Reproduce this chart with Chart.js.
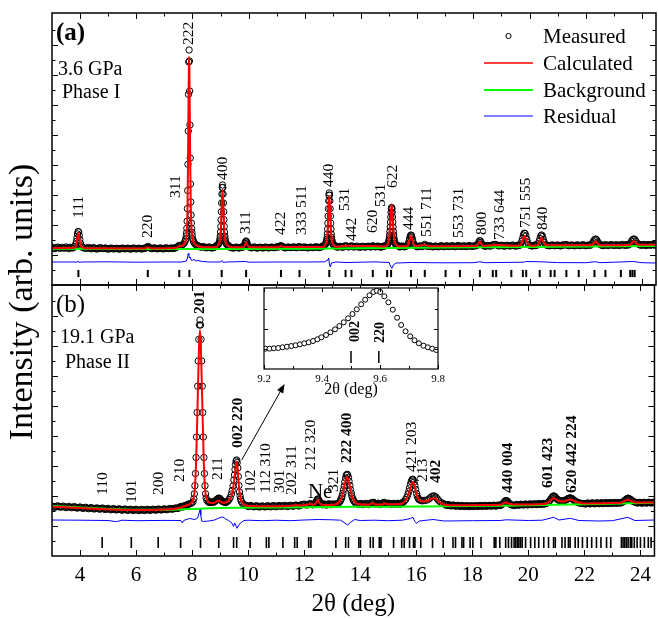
<!DOCTYPE html>
<html>
<head>
<meta charset="utf-8">
<title>Rietveld refinement, Phase I / Phase II</title>
<script src="https://cdn.jsdelivr.net/npm/chart.js@4.4.1/dist/chart.umd.min.js"></script>
<style>
  html, body { margin: 0; padding: 0; background: #fff; }
  #wrap { position: relative; width: 658px; height: 620px; }
  #wrap canvas { position: absolute; left: 0; top: 0; }
</style>
</head>
<body>
<div id="wrap">
  <canvas id="chartA" width="658" height="620"></canvas>
  <canvas id="chartB" width="658" height="620"></canvas>
  <canvas id="chartC" width="658" height="620"></canvas>
</div>
<script>
/* ---- data: panel (a), 3.6 GPa, Phase I ---- */
const measuredA = [
  [3.0,37.6],[3.1,36.3],[3.2,37.9],[3.3,36.7],[3.4,37.2],[3.5,38.0],[3.6,36.4],[3.7,37.4],
  [3.80,38.5],[3.84,40.5],[3.87,43.5],[3.89,47],[3.91,51],[3.93,53.5],[3.95,53],[3.97,49.5],[3.99,45.5],[4.01,42],[4.04,39],[4.08,37.8],
  [4.2,36.6],[4.3,37.5],[4.4,36.2],[4.5,37.1],[4.6,36.0],[4.7,37.3],[4.8,36.4],[4.9,37.0],[5.0,35.9],[5.1,36.9],[5.2,36.1],[5.3,36.7],
  [5.4,35.8],[5.5,36.9],[5.6,36.2],[5.7,36.8],[5.8,35.9],[5.9,37.0],[6.0,36.1],[6.1,36.8],[6.2,36.0],[6.3,36.9],
  [6.38,37.6],[6.42,38.6],[6.46,37.5],
  [6.55,36.3],[6.65,37.1],[6.75,36.2],[6.85,37.0],[6.95,36.1],[7.05,37.2],[7.15,36.4],[7.25,37.1],[7.35,36.8],[7.42,37.6],[7.48,38.4],[7.52,39.6],[7.56,39.3],
  [7.62,39.8],[7.67,40.8],[7.71,42.1],[7.74,43.9],[7.76,45.9],[7.78,49.2],[7.79,52.2],[7.80,56.7],[7.81,63.8],[7.82,76.4],[7.83,94.5],[7.84,120.7],
  [7.85,154],[7.86,190.7],[7.87,223],[7.88,235],[7.89,224],[7.90,194],[7.91,160],[7.92,127],[7.93,101],[7.94,83],[7.95,70],[7.96,62],
  [7.97,56.5],[7.98,52.5],[7.99,49.5],[8.01,46],[8.03,44],[8.06,42.2],[8.10,40.8],[8.15,39.8],
  [8.22,39.0],[8.3,37.8],[8.4,38.3],[8.5,37.2],[8.6,38.0],[8.7,37.0],[8.8,37.9],
  [8.86,39.4],[8.90,40.1],[8.93,41.1],[8.95,42.1],[8.97,44.2],[8.98,46.1],[8.99,48.9],[9.00,52.9],[9.01,58.5],[9.02,65.3],[9.03,73.3],[9.04,82],
  [9.05,91],[9.06,97.5],[9.07,100],[9.08,97.5],[9.09,91],[9.10,82],[9.11,73.3],[9.12,65.3],[9.13,58.5],[9.14,52.9],[9.15,48.9],[9.16,46.1],
  [9.17,44.2],[9.19,42.1],[9.21,41.1],[9.24,40.1],[9.28,39.4],
  [9.35,37.6],[9.45,36.9],[9.55,37.9],[9.65,37.0],[9.72,37.8],
  [9.80,38],[9.84,39.3],[9.87,41.5],[9.89,43.2],[9.91,44],[9.93,43],[9.95,41],[9.98,39.2],[10.02,38],
  [10.1,37.2],[10.2,38.1],[10.3,36.9],[10.4,37.8],[10.5,37.0],[10.6,38.0],[10.7,37.1],[10.8,37.9],[10.9,37.3],[11.0,38.2],[11.08,38.4],[11.15,39.3],[11.22,38.2],
  [11.3,37.1],[11.4,38.0],[11.5,37.3],[11.6,38.1],[11.7,37.2],[11.8,38.4],[11.9,37.4],[12.0,38.0],[12.1,37.1],[12.2,37.9],[12.3,37.3],[12.4,38.2],[12.5,37.4],[12.58,38.1],
  [12.66,39.2],[12.70,39.8],[12.73,40.7],[12.75,41.6],[12.77,43.4],[12.78,45.1],[12.79,47.5],[12.80,51],[12.81,55.8],[12.82,61.8],[12.83,68.8],[12.84,76.3],
  [12.85,84.2],[12.86,89.8],[12.87,92],[12.88,89.8],[12.89,84.2],[12.90,76.3],[12.91,68.8],[12.92,61.8],[12.93,55.8],[12.94,51],[12.95,47.5],[12.96,45.1],
  [12.97,43.4],[12.99,41.6],[13.01,40.7],[13.04,39.8],[13.08,39.2],
  [13.15,37.8],[13.25,38.6],[13.35,37.7],[13.45,39.4],[13.55,38.0],[13.66,39.2],[13.75,38.0],[13.85,38.8],[13.95,37.6],[14.05,38.7],[14.15,37.9],
  [14.25,38.8],[14.35,38.0],[14.42,39.2],[14.5,38.1],[14.6,38.9],[14.7,37.8],[14.8,38.7],
  [14.88,39.6],[14.92,40.1],[14.95,40.8],[14.97,41.7],[14.99,43.6],[15.00,45.2],[15.01,47.3],[15.02,50.1],[15.03,53.7],[15.04,58],[15.05,62.9],[15.06,68],
  [15.07,72.7],[15.08,76.2],[15.09,77.5],[15.10,76.2],[15.11,72.7],[15.12,68],[15.13,62.9],[15.14,58],[15.15,53.7],[15.16,50.1],[15.17,47.3],[15.18,45.2],
  [15.19,43.6],[15.21,41.7],[15.23,40.8],[15.26,40.1],[15.30,39.6],
  [15.38,38.0],[15.46,39.0],[15.54,38.2],
  [15.62,39],[15.66,40],[15.69,41.5],[15.71,43.5],[15.73,46],[15.75,48.3],[15.77,49.8],[15.79,49.8],[15.81,48],[15.83,45.5],[15.85,43],[15.88,41],[15.92,39.5],
  [16.0,38.2],[16.1,39.1],[16.18,38.4],[16.27,40.6],[16.36,38.6],[16.45,39.2],[16.55,38.1],[16.65,39.0],[16.75,38.2],[16.85,39.3],[16.95,38.3],[17.05,39.2],
  [17.15,38.4],[17.25,39.3],[17.35,38.3],[17.45,39.4],[17.55,38.5],[17.65,39.2],[17.75,38.4],[17.85,39.5],[17.95,38.6],[18.05,39.3],
  [18.12,39.5],[18.16,40.8],[18.19,42.5],[18.22,44.3],[18.25,44],[18.28,42.3],[18.31,40.6],[18.35,39.6],
  [18.42,38.7],[18.5,39.6],[18.6,38.9],[18.7,40.2],[18.8,40.5],[18.9,39.1],[19.0,39.8],[19.1,38.8],[19.2,39.7],[19.3,39.0],[19.4,39.9],[19.5,38.9],[19.58,39.8],
  [19.64,39.6],[19.68,41],[19.72,43.5],[19.75,46.5],[19.78,50],[19.81,51.8],[19.84,51.5],[19.87,49],[19.90,45.5],[19.93,42.5],[19.97,40.5],[20.02,39.5],
  [20.1,39.0],[20.18,39.9],
  [20.26,39.8],[20.30,41.2],[20.34,43.5],[20.37,46.5],[20.40,49.2],[20.43,50],[20.46,48.5],[20.49,45.5],[20.52,42.8],[20.56,40.8],[20.61,39.8],
  [20.7,39.2],[20.8,40.1],[20.9,39.3],[21.0,40.0],[21.1,39.1],[21.2,40.2],[21.3,40.4],[21.4,39.3],[21.5,40.0],[21.6,39.2],[21.7,40.1],[21.8,39.4],[21.9,40.2],[22.0,39.3],[22.1,40.0],
  [22.18,40],[22.23,41.5],[22.27,43.5],[22.31,45.3],[22.35,46],[22.39,45],[22.43,43],[22.48,41],[22.54,40],
  [22.62,39.4],[22.7,40.3],[22.8,39.5],[22.9,40.4],[23.0,39.6],[23.1,40.2],[23.2,39.5],[23.3,40.5],[23.4,39.7],[23.47,40.3],
  [23.54,40.3],[23.59,41.8],[23.63,43.8],[23.67,45.5],[23.71,46],[23.75,45.3],[23.79,43.5],[23.84,41.6],[23.90,40.4],
  [23.98,39.7],[24.06,40.5],[24.14,39.6],[24.22,40.4],[24.3,39.8],[24.38,40.6],[24.46,39.9],
  // intermediate baseline readings
  [3.05,36.9],[3.15,37.3],[3.25,37.0],[3.35,37.6],[3.45,36.8],[3.55,37.1],[3.65,37.7],[3.75,37.0],
  [4.12,37.2],[4.25,36.9],[4.35,36.7],[4.45,37.3],[4.55,36.5],[4.65,36.6],[4.75,36.9],[4.85,36.6],[4.95,36.5],[5.05,36.3],[5.15,36.5],[5.25,36.4],
  [5.35,36.3],[5.45,36.5],[5.55,36.4],[5.65,36.5],[5.75,36.3],[5.85,36.4],[5.95,36.6],[6.05,36.5],[6.15,36.4],[6.25,36.5],[6.34,37.0],
  [6.5,36.9],[6.6,36.8],[6.7,36.6],[6.8,36.5],[6.9,36.7],[7.0,36.5],[7.1,36.8],[7.2,36.6],[7.3,36.5],[7.39,37.1],
  [8.18,39.5],[8.26,38.4],[8.35,38.2],[8.45,37.6],[8.55,37.7],[8.65,37.4],[8.75,37.6],[8.83,38.5],
  [9.31,38.6],[9.4,37.4],[9.5,37.3],[9.6,37.5],[9.68,37.3],[9.76,37.6],
  [10.06,37.6],[10.15,37.5],[10.25,37.6],[10.35,37.3],[10.45,37.5],[10.55,37.4],[10.65,37.6],[10.75,37.4],[10.85,37.7],[10.95,37.6],[11.04,37.8],
  [11.12,38.9],[11.18,38.8],[11.26,37.6],[11.35,37.6],[11.45,37.7],[11.55,37.6],[11.65,37.7],[11.75,37.9],[11.85,37.8],[11.95,37.8],[12.05,37.5],
  [12.15,37.5],[12.25,37.6],[12.35,37.8],[12.45,37.8],[12.54,37.6],[12.62,38.6],
  [13.11,38.5],[13.2,38.2],[13.3,38.1],[13.4,38.5],[13.5,38.7],[13.6,38.6],[13.7,38.5],[13.8,38.3],[13.9,38.2],[14.0,38.1],[14.1,38.3],[14.2,38.3],
  [14.3,38.4],[14.38,38.6],[14.46,38.7],[14.55,38.5],[14.65,38.3],[14.75,38.2],[14.84,39.0],
  [15.34,38.8],[15.42,38.5],[15.5,38.6],[15.58,38.6],
  [15.96,38.9],[16.05,38.6],[16.14,38.7],[16.22,39.4],[16.31,39.6],[16.4,38.9],[16.5,38.6],[16.6,38.5],[16.7,38.6],[16.8,38.7],[16.9,38.8],[17.0,38.7],
  [17.1,38.8],[17.2,38.9],[17.3,38.8],[17.4,38.8],[17.5,39.0],[17.6,38.8],[17.7,38.8],[17.8,38.9],[17.9,39.0],[18.0,38.9],[18.09,39.2],
  [18.38,39.2],[18.46,39.1],[18.55,39.2],[18.65,39.5],[18.75,40.4],[18.85,39.8],[18.95,39.4],[19.05,39.3],[19.15,39.2],[19.25,39.4],[19.35,39.5],
  [19.45,39.4],[19.54,39.3],[19.61,39.5],[20.06,39.4],[20.14,39.5],[20.22,39.4],
  [20.65,39.5],[20.75,39.6],[20.85,39.7],[20.95,39.6],[21.05,39.5],[21.15,39.6],[21.25,40.0],[21.35,39.9],[21.45,39.7],[21.55,39.6],[21.65,39.7],
  [21.75,39.7],[21.85,39.8],[21.95,39.8],[22.05,39.6],[22.14,39.8],
  [22.58,39.8],[22.66,39.8],[22.75,39.9],[22.85,39.9],[22.95,40.0],[23.05,39.9],[23.15,39.8],[23.25,40.0],[23.35,40.1],[23.44,40.0],[23.51,40.0],
  [23.94,40.1],[24.02,40.1],[24.1,40.0],[24.18,40.0],[24.26,40.1],[24.34,40.2],[24.42,40.2],[24.5,40.3]
];
const calculatedA = [
  [3,37],[3.8,37.2],[3.86,40],[3.9,47],[3.93,52],[3.96,49],[4.0,42],[4.05,38],[4.2,36.8],[6.3,36.6],[6.42,37.8],[6.55,36.6],[7.4,36.9],[7.52,38.6],
  [7.62,39],[7.70,41],[7.76,44.5],[7.80,54],[7.82,72],[7.84,116],[7.86,185],[7.875,222],[7.882,228],[7.89,220],[7.90,188],[7.92,122],[7.94,80],
  [7.96,60],[7.99,48.5],[8.03,43.5],[8.10,40.5],[8.2,39],[8.4,37.8],[8.85,37.8],[8.92,40],[8.97,43.5],[9.0,50],[9.03,69],[9.05,86],[9.07,95],
  [9.09,86],[9.11,69],[9.14,50],[9.18,43],[9.25,39.5],[9.4,37.8],[9.8,37.8],[9.86,39.5],[9.91,42.5],[9.96,39.5],[10.05,37.8],[11.05,37.8],
  [11.15,39],[11.25,37.9],[11.8,38],[11.85,38.5],[11.9,38],[12.65,38],[12.72,40],[12.77,43],[12.80,50],[12.83,66],[12.85,80],[12.87,89],
  [12.89,80],[12.91,66],[12.94,50],[12.97,43],[13.02,40],[13.1,38.2],[13.45,39.3],[13.66,39],[14.42,39],[14.85,38.5],[14.93,40],[14.98,43],
  [15.01,48],[15.04,60],[15.07,74],[15.09,80.5],[15.11,74],[15.14,60],[15.17,48],[15.20,43],[15.25,40],[15.32,38.7],[15.62,38.7],[15.68,40.5],
  [15.73,45],[15.78,49],[15.83,45],[15.88,40.5],[15.95,38.7],[16.27,40.3],[16.4,38.8],[18.12,39],[18.23,43.5],[18.34,39],[18.75,40],[19.6,39.2],
  [19.7,41],[19.76,45.5],[19.82,49],[19.88,45.5],[19.95,41],[20.05,39.3],[20.27,39.5],[20.36,44],[20.42,47.5],[20.48,44],[20.57,39.8],[21.31,39.7],
  [22.2,39.8],[22.28,41.5],[22.35,43.5],[22.42,41.5],[22.5,39.8],[23.55,40],[23.64,42],[23.71,44],[23.78,42],[23.88,40.2],[24.5,40.2]
];
const backgroundA = [[3,36.3],[6,36],[9,36],[12,36.3],[15,37],[18,37.7],[21,38.3],[24.5,39]];
const residualA = [
  [3,23],[3.9,23],[3.94,24],[3.97,22.5],[4.05,23],[5,23.2],[6,22.8],[7,23],[7.6,23],[7.78,24],[7.82,27],[7.85,31.5],[7.87,30],[7.89,27],
  [7.92,28],[7.95,25],[8.0,24.5],[8.05,26],[8.1,24],[8.2,24.5],[8.35,23.5],[8.6,23],[9.0,23],[9.05,24.5],[9.1,22.5],[9.2,23],[9.9,23.5],
  [10,22.8],[11,23],[12,23],[12.7,23.2],[12.82,25],[12.85,27],[12.88,20],[12.91,18],[12.95,22],[13.1,23],[13.5,22.5],[14,22.8],[14.5,23.1],
  [15.0,22.5],[15.05,19],[15.1,16.7],[15.15,20],[15.25,22],[15.8,22.5],[16.5,22.3],[17,22.2],[18,22.3],[18.23,23.2],[18.4,22.3],[19.8,22.8],
  [19.86,23.5],[20.4,23.2],[21,22.4],[22,22.3],[22.35,23.3],[22.5,22.3],[23.7,23.5],[24,22.3],[24.5,22]
];
const reflectionsA = [3.94,6.41,7.53,7.89,9.04,9.91,11.15,11.81,12.87,13.45,13.66,14.42,14.93,15.07,15.78,16.27,17.01,17.52,18.23,18.69,18.81,
  19.35,19.76,19.88,20.36,20.75,20.89,21.31,21.75,22.31,22.70,23.25,23.58,23.66,23.74];
const hklA  = ['111','220','311','222','400','311','422','333 511','440','531','442','620','531','622','444','551 711','553 731','800','733 644','751 555','840'];
const hklAx = [3.96,6.41,7.40,7.89,9.09,9.90,11.14,11.90,12.84,13.41,13.69,14.42,14.70,15.13,15.72,16.33,17.49,18.31,18.95,19.88,20.49];
const hklAy = [67,47,87,240,105,51,50,50,98,74,44,52,78,97,55,48,47,50,45,57,55];

/* ---- data: panel (b), 19.1 GPa, Phase II ---- */
const measuredB = [
  [3.0,50],[3.1,48.7],[3.2,50.2],[3.3,48.8],[3.4,49.9],[3.5,48.4],[3.6,49.6],[3.7,48.3],[3.8,49.4],[3.9,47.9],[4.0,49.0],[4.1,47.6],[4.2,48.7],
  [4.3,47.3],[4.4,48.4],[4.5,47.0],[4.6,48.1],[4.7,46.8],[4.8,48.0],[4.9,46.5],[5.0,47.6],[5.1,46.2],[5.2,47.4],[5.3,46.0],[5.4,47.2],[5.5,45.8],
  [5.6,47.0],[5.7,45.6],[5.8,46.8],[5.9,45.5],[6.0,46.7],[6.1,45.4],[6.2,46.6],[6.3,45.5],[6.4,46.7],[6.5,45.6],[6.6,46.8],[6.7,45.8],[6.8,47.0],
  [6.9,46.0],[7.0,47.1],[7.1,46.3],[7.2,47.5],[7.3,46.8],[7.4,48.0],[7.5,47.6],[7.58,49.2],[7.66,49.0],[7.74,50.4],[7.82,50.8],
  [7.88,52],[7.98,52.8],[8.03,54.1],[8.06,57.2],[8.08,62.2],[8.10,70.3],[8.12,82.5],[8.14,98.5],[8.16,119],[8.18,143.5],[8.20,169.8],[8.22,195],
  [8.24,216.6],[8.26,231],[8.28,236],[8.30,231],[8.32,216.6],[8.34,195],[8.36,169.8],[8.38,143.5],[8.40,119],[8.42,98.5],[8.44,82.5],[8.46,70.3],
  [8.48,62.2],[8.50,58],[8.53,55.5],[8.58,54],[8.64,53.5],[8.70,54.2],
  [8.76,53.6],[8.82,55.0],[8.88,56.2],[8.93,57.6],[8.97,57.8],[9.02,56.2],[9.08,54.6],[9.14,54.0],
  [9.20,53.5],[9.24,54.2],[9.28,55],[9.32,56.5],[9.36,58.5],[9.40,62],[9.43,65.5],[9.46,70],[9.49,76],[9.51,81],[9.53,86.5],[9.55,91.5],[9.57,95],
  [9.59,96],[9.61,93.5],[9.63,88],[9.65,79.5],[9.67,70.5],[9.69,64],[9.71,60],[9.73,57],[9.76,54.5],[9.80,52.5],[9.85,51.5],
  [9.9,50.8],[10.0,49.6],[10.1,50.5],[10.2,49.2],[10.3,50.3],[10.4,49.0],[10.5,50.1],[10.6,49.1],[10.7,50.3],[10.8,49.2],[10.9,50.4],[11.0,49.3],
  [11.1,50.5],[11.2,49.6],[11.3,50.6],[11.4,49.5],[11.5,50.7],[11.6,49.8],[11.7,51.0],[11.8,50.0],[11.9,51.2],[12.0,51.8],[12.1,51.0],[12.2,52.4],
  [12.3,51.2],[12.38,52.5],[12.44,55],[12.48,57],[12.52,56],[12.58,53],[12.65,51.2],[12.72,52],[12.8,51.0],[12.88,52.2],[12.95,51.3],[13.02,52.0],
  [13.10,51.5],[13.18,52.3],[13.23,53.1],[13.28,54.6],[13.30,55.8],[13.33,57.5],[13.35,59.8],[13.38,62.6],[13.40,66.1],[13.43,70],[13.45,74.1],
  [13.48,77.9],[13.50,80.7],[13.53,81.7],[13.55,81.2],[13.58,78.5],[13.60,74.8],[13.63,70.5],[13.65,66.5],[13.68,63],[13.70,60],[13.73,57.6],
  [13.75,55.9],[13.78,54.6],[13.83,53],[13.88,52.2],[13.95,51.5],
  [14.02,52.5],[14.1,51.4],[14.2,52.6],[14.3,51.5],[14.4,53.2],[14.48,53.6],[14.56,52.0],[14.64,52.8],[14.72,51.6],[14.8,53.0],[14.86,53.5],
  [14.94,52.2],[15.02,52.8],[15.1,51.7],[15.18,52.6],[15.26,51.8],[15.34,52.7],[15.40,51.9],
  [15.45,52.5],[15.52,53.5],[15.57,54.8],[15.62,56.5],[15.66,58.7],[15.70,61.5],[15.73,64.5],[15.76,68],[15.79,71.5],[15.82,74.5],[15.85,76.3],
  [15.87,76.7],[15.89,76.2],[15.92,74],[15.95,70.5],[15.98,66.5],[16.01,62.5],[16.04,59.5],[16.07,57.5],[16.10,56.3],[16.14,55.8],[16.18,55.5],
  [16.22,55.2],[16.30,55.5],[16.38,56],[16.45,57],[16.50,58.2],[16.55,59.3],[16.60,60],[16.65,60],[16.70,59],[16.75,57.3],[16.80,55.5],[16.86,54],
  [16.93,52.8],[17.0,52],
  [17.08,50.6],[17.16,51.4],[17.24,50.1],[17.32,51.0],[17.4,49.8],[17.48,50.7],[17.56,49.6],[17.64,50.5],[17.72,49.5],[17.8,50.4],[17.88,49.4],
  [17.96,50.3],[18.04,49.5],[18.12,50.4],[18.2,49.5],[18.28,50.5],[18.36,49.6],[18.44,50.6],[18.52,49.7],[18.6,50.6],[18.68,49.8],[18.76,50.8],
  [18.84,49.9],[18.92,50.9],
  [19.0,50.5],[19.08,52],[19.14,54],[19.2,55.5],[19.26,54.5],[19.32,52.5],[19.4,51],[19.5,50.5],
  [19.58,51.6],[19.66,50.8],[19.74,51.8],[19.82,51.0],[19.9,52.0],[19.98,51.1],[20.06,52.1],[20.14,51.3],[20.22,52.2],[20.3,51.4],[20.38,52.4],
  [20.46,51.6],[20.54,52.5],
  [20.6,52],[20.7,53.5],[20.78,56],[20.85,59],[20.9,60],[20.95,59.2],[21.02,57],[21.1,55.5],[21.2,55],[21.3,55.5],[21.38,56.8],[21.45,57.8],
  [21.5,58],[21.56,57.3],[21.64,55.5],[21.72,54],[21.82,53],[21.95,52.5],
  [22.04,52.0],[22.12,53.0],[22.2,52.1],[22.28,53.1],[22.36,52.2],[22.44,53.2],[22.52,52.3],[22.6,53.3],[22.68,52.4],[22.76,53.4],[22.84,52.5],
  [22.92,53.4],[23.0,52.6],[23.08,53.5],[23.16,52.7],[23.24,53.4],
  [23.3,53],[23.4,54.5],[23.48,56.5],[23.55,57.8],[23.62,57],[23.7,55.3],[23.8,53.8],[23.9,53],
  [23.98,53.6],[24.06,52.8],[24.14,53.7],[24.22,52.9],[24.3,53.8],[24.38,53.0],[24.46,53.7],
  // intermediate baseline readings
  [3.05,49.3],[3.15,49.5],[3.25,49.4],[3.35,49.2],[3.45,49.1],[3.55,48.9],[3.65,48.9],[3.75,48.8],[3.85,48.6],[3.95,48.4],[4.05,48.3],[4.15,48.1],
  [4.25,48.0],[4.35,47.8],[4.45,47.7],[4.55,47.5],[4.65,47.4],[4.75,47.3],[4.85,47.2],[4.95,47.0],[5.05,46.9],[5.15,46.8],[5.25,46.7],[5.35,46.6],
  [5.45,46.5],[5.55,46.4],[5.65,46.3],[5.75,46.2],[5.85,46.1],[5.95,46.1],[6.05,46.0],[6.15,46.0],[6.25,46.0],[6.35,46.1],[6.45,46.1],[6.55,46.2],
  [6.65,46.3],[6.75,46.4],[6.85,46.5],[6.95,46.6],[7.05,46.7],[7.15,46.9],[7.25,47.1],[7.35,47.4],[7.45,47.8],[7.54,48.4],[7.62,49.6],[7.7,49.8],
  [7.78,50.6],[7.85,51.5],[7.93,52.4],
  [8.61,53.8],[8.67,53.9],[8.73,53.9],[8.79,54.3],[8.85,55.6],[8.9,56.9],[8.95,57.7],[9.0,57.0],[9.05,55.4],[9.11,54.3],[9.17,53.8],
  [9.95,50.2],[10.05,50.0],[10.15,49.8],[10.25,49.7],[10.35,49.6],[10.45,49.5],[10.55,49.6],[10.65,49.7],[10.75,49.7],[10.85,49.8],[10.95,49.9],
  [11.05,49.9],[11.15,50.0],[11.25,50.1],[11.35,50.1],[11.45,50.1],[11.55,50.2],[11.65,50.3],[11.75,50.5],[11.85,50.6],[11.95,51.5],[12.05,51.4],
  [12.15,51.6],[12.25,51.8],[12.34,51.9],[12.41,53.5],[12.46,56.2],[12.5,56.8],[12.55,54.5],[12.62,52.0],[12.68,51.6],[12.76,51.4],[12.84,51.6],
  [12.92,51.7],[12.98,51.6],[13.06,51.8],[13.14,51.9],
  [13.98,51.9],[14.06,52.0],[14.15,52.0],[14.25,52.1],[14.35,52.3],[14.44,53.4],[14.52,52.8],[14.6,52.4],[14.68,52.2],[14.76,52.3],[14.83,53.2],
  [14.9,52.9],[14.98,52.5],[15.06,52.3],[15.14,52.1],[15.22,52.2],[15.3,52.2],[15.37,52.3],[15.43,52.2],[15.48,53.0],
  [17.04,51.3],[17.12,51.0],[17.2,50.8],[17.28,50.5],[17.36,50.4],[17.44,50.2],[17.52,50.1],[17.6,50.0],[17.68,50.0],[17.76,49.9],[17.84,49.9],
  [17.92,49.8],[18.0,49.9],[18.08,49.9],[18.16,50.0],[18.24,50.0],[18.32,50.0],[18.4,50.1],[18.48,50.1],[18.56,50.2],[18.64,50.2],[18.72,50.3],
  [18.8,50.3],[18.88,50.4],[18.96,50.6],[19.04,51.2],[19.11,53.0],[19.17,55.0],[19.23,55.2],[19.29,53.5],[19.36,51.7],[19.45,50.8],[19.54,51.0],
  [19.62,51.2],[19.7,51.3],[19.78,51.4],[19.86,51.5],[19.94,51.6],[20.02,51.6],[20.1,51.7],[20.18,51.8],[20.26,51.8],[20.34,51.9],[20.42,52.0],
  [20.5,52.0],[20.57,52.3],[20.65,52.7],[20.74,54.7],[20.82,57.5],[20.88,59.7],[20.92,59.8],[20.98,58.2],[21.06,56.2],[21.15,55.2],[21.25,55.2],
  [21.34,56.1],[21.42,57.4],[21.48,58.0],[21.53,57.7],[21.6,56.5],[21.68,54.7],[21.77,53.4],[21.88,52.7],[21.99,52.3],
  [22.08,52.5],[22.16,52.6],[22.24,52.6],[22.32,52.7],[22.4,52.7],[22.48,52.8],[22.56,52.8],[22.64,52.9],[22.72,52.9],[22.8,53.0],[22.88,53.0],
  [22.96,53.0],[23.04,53.1],[23.12,53.1],[23.2,53.1],[23.27,53.2],[23.35,53.7],[23.44,55.5],[23.52,57.2],[23.58,57.6],[23.66,56.2],[23.75,54.5],
  [23.85,53.4],[23.94,53.3],[24.02,53.2],[24.1,53.3],[24.18,53.3],[24.26,53.4],[24.34,53.4],[24.42,53.4],[24.5,53.5]
];
const calculatedB = [
  [3,49.3],[4,48],[5,46.7],[6,46],[7,46.5],[7.5,47.8],[7.7,49.5],[7.85,51],[7.95,52.5],[8.02,55],[8.06,59],[8.10,68],[8.14,92],[8.18,134],
  [8.22,180],[8.25,212],[8.28,226],[8.31,212],[8.34,180],[8.38,134],[8.42,92],[8.46,68],[8.50,59],[8.56,55],[8.65,53],[8.8,53.2],[8.9,55],
  [8.95,55.5],[9.0,54.5],[9.1,53.3],[9.2,53.5],[9.3,55.5],[9.4,60],[9.46,67],[9.51,78],[9.55,88],[9.58,94],[9.61,91],[9.64,81],[9.67,70],
  [9.71,60],[9.76,54.5],[9.85,51.5],[10,50],[11,49.8],[11.65,50.5],[11.72,51.2],[11.8,50.6],[12.15,51.5],[12.22,52.3],[12.3,51.3],[12.4,52],
  [12.48,56],[12.55,52.5],[12.7,51],[13.1,51.5],[13.25,54],[13.35,59],[13.42,68],[13.48,76],[13.53,79.3],[13.58,76],[13.64,68],[13.71,59],
  [13.8,54],[13.95,51.8],[14.3,51.3],[14.45,52.8],[14.55,51.5],[14.8,51.6],[14.86,52.8],[14.95,51.8],[15.45,52],[15.6,55],[15.7,60],[15.77,66],
  [15.83,72],[15.87,74],[15.92,72],[15.98,65],[16.05,58.5],[16.12,55.5],[16.25,54.6],[16.4,55.3],[16.52,57],[16.62,57.7],[16.72,56.8],[16.82,54],
  [16.95,51.8],[17.2,50.8],[19.0,51.2],[19.1,52.5],[19.2,53.5],[19.3,52.5],[19.45,51.5],[20.6,52],[20.72,54],[20.82,56.5],[20.9,57.7],[20.98,56.8],
  [21.08,55],[21.25,54.5],[21.4,55.8],[21.5,56.5],[21.6,55.5],[21.75,53.8],[21.95,52.6],[23.3,53.2],[23.45,55],[23.55,56.3],[23.65,55.3],[23.8,53.5],[24.5,53.4]
];
const backgroundB = [[3,50],[4,48.5],[5,47],[6,46.2],[7,46.2],[8,47],[9,48],[11,48.6],[13,49],[15,49.3],[17,49.8],[19,50.3],[21,51.2],[23,52.3],[24.5,53.3]];
const residualB = [
  [3,36],[4,35.8],[5,35.5],[5.3,34.3],[5.5,35.8],[6,35.3],[7,35.6],[7.6,35.5],[7.65,33],[7.7,35.5],[7.9,37.5],[8.1,36.5],[8.2,38],[8.26,44],
  [8.29,48],[8.31,41],[8.34,35],[8.4,34.5],[8.6,35],[8.8,36],[9.0,38.5],[9.1,39],[9.2,37],[9.3,35.5],[9.42,33],[9.48,29.5],[9.52,33],[9.56,31],
  [9.6,27.7],[9.65,30],[9.7,32.5],[9.76,33.5],[9.85,35.5],[10.0,35.8],[10.5,35.3],[11,35.8],[11.5,35.3],[12,36],[12.5,36.5],[13,36.2],[13.3,35.8],
  [13.45,33],[13.55,31],[13.65,33.5],[13.8,36.5],[14,35.5],[14.5,35.8],[15,35.3],[15.5,35.8],[15.8,37.5],[15.88,38.7],[15.95,34.5],[16.02,32.7],
  [16.1,35],[16.6,36.5],[17,35],[18,35.3],[19,35.5],[19.2,36.2],[20,35.5],[20.5,35.8],[20.9,38.7],[21.1,36],[21.5,37.7],[21.8,35.5],[22.5,35],
  [23,35.3],[23.55,38.7],[23.8,35.5],[24.5,36]
];
const reflectionsB = [4.79,5.83,6.79,7.59,8.30,8.95,9.48,9.59,10.07,10.65,10.74,11.24,11.66,11.75,12.16,12.24,13.13,13.48,13.58,
  13.95,14.01,14.36,14.46,14.68,14.74,15.19,15.48,15.57,15.76,15.90,15.95,16.16,16.58,16.96,17.31,17.40,17.63,17.69,17.92,18.02,18.31,
  18.78,18.84,18.98,19.19,19.29,19.40,19.49,19.55,19.61,19.66,19.72,19.78,19.90,20.08,20.23,20.37,20.55,20.72,20.90,20.96,21.20,21.31,
  21.43,21.49,21.67,21.78,21.93,22.10,22.26,22.43,22.59,22.79,22.94,23.32,23.38,23.44,23.50,23.56,23.64,23.69,23.78,23.88,24.00,24.14,24.28,24.38];
const hklB  = ['110','101','200','210','201','211','002 220','102','112 310','301','202 311','212 320','321','222 400','421 203','213','402','440 004','601 423','620 442 224'];
const hklBx = [4.81,5.85,6.83,7.55,8.29,8.93,9.62,10.11,10.62,11.14,11.56,12.25,13.05,13.54,15.84,16.24,16.72,19.29,20.70,21.55];
const hklBy = [61,53,61,74,242,76,108,63,63,63,61,86,64,93,84,74,73,63,68,63];
const hklBbold = [0,0,0,0,1,0,1,0,0,0,0,0,0,1,0,0,1,1,1,1];

/* ---- data: inset, 002 / 220 doublet ---- */
const insetMeasured = [
  [9.205,20.3],[9.219,20.3],[9.234,20.7],[9.249,21],[9.264,21.7],[9.279,22.3],[9.294,23],[9.309,23.7],[9.324,24.7],[9.339,25.7],[9.354,26.7],
  [9.369,28],[9.384,29.7],[9.398,31.7],[9.414,34],[9.429,36.7],[9.445,39.7],[9.460,43],[9.475,46.7],[9.490,50.7],[9.505,55],[9.520,59.7],
  [9.535,64.7],[9.549,69.3],[9.564,73.7],[9.577,77],[9.589,78.3],[9.601,77],[9.615,72.7],[9.629,66.7],[9.644,59.3],[9.659,51.3],[9.673,44],
  [9.688,37.7],[9.704,32.7],[9.719,28.7],[9.734,25.7],[9.750,23.3],[9.765,21.7],[9.780,20.3],[9.794,19]
];
const insetReflections = [9.50, 9.596];
const insetHkl = ['002','220'];
const insetHklX = [9.515, 9.60];
const insetHklY = [27, 26];

/* ---- axes ---- */
const xRange = [3, 24.5];
const xTickLabels = [4,6,8,10,12,14,16,18,20,22,24];
const xMinor = [5,7,9,11,13,15,17,19,21,23];
const insetTickLabels = [9.2,9.4,9.6,9.8];
const insetMinor = [9.3,9.5,9.7];
const yTicksA = [15,30,45,60,75,90,105,120,135,150,165,180,195,210,225,240,255];
const yTicksB = [15,30,45,60,75,90,105,120,135,150,165,180,195,210,225,240,255];
const yTicksInset = [20,40,60];

const SERIF = '"Liberation Serif", "Times New Roman", serif';
const xy = arr => arr.map(p => ({ x: p[0], y: p[1] }));
const atY = (xs, v) => xs.map(x => ({ x: x, y: v }));

/* ---- helpers ---- */
function drawFrame(chart, o) {
  const { ctx, chartArea: a } = chart;
  const xs = chart.scales.x, ys = chart.scales.y;
  ctx.save();
  ctx.strokeStyle = '#000';
  ctx.lineWidth = 1;
  ctx.beginPath();
  const vTick = (v, len) => {
    const px = Math.round(xs.getPixelForValue(v)) + 0.5;
    ctx.moveTo(px, a.bottom); ctx.lineTo(px, a.bottom - len);
    ctx.moveTo(px, a.top); ctx.lineTo(px, a.top + len);
  };
  const hTick = (v, len) => {
    const py = Math.round(ys.getPixelForValue(v)) + 0.5;
    ctx.moveTo(a.left, py); ctx.lineTo(a.left + len, py);
    ctx.moveTo(a.right, py); ctx.lineTo(a.right - len, py);
  };
  o.xMajor.forEach(v => vTick(v, o.major));
  o.xMinor.forEach(v => vTick(v, o.minor));
  o.yTicks.forEach((v, i) => hTick(v, i % 2 ? o.major : o.minor));
  ctx.stroke();
  ctx.lineWidth = o.border;
  ctx.strokeRect(a.left, a.top, a.right - a.left, a.bottom - a.top);
  ctx.restore();
}

function drawHkl(chart, texts, xsv, ysv, bold, size) {
  const { ctx } = chart;
  const xs = chart.scales.x, ys = chart.scales.y;
  texts.forEach((t, i) => {
    ctx.save();
    ctx.translate(xs.getPixelForValue(xsv[i]), ys.getPixelForValue(ysv[i]));
    ctx.rotate(-Math.PI / 2);
    ctx.font = (bold && bold[i] ? 'bold ' : '') + size + 'px ' + SERIF;
    ctx.fillStyle = '#000';
    ctx.textAlign = 'left';
    ctx.textBaseline = 'middle';
    ctx.fillText(t, 0, 0);
    ctx.restore();
  });
}

function text(ctx, s, x, y, font, align) {
  ctx.font = font;
  ctx.fillStyle = '#000';
  ctx.textAlign = align || 'left';
  ctx.textBaseline = 'alphabetic';
  ctx.fillText(s, x, y);
}

const commonOpts = {
  responsive: false,
  animation: false,
  devicePixelRatio: 1,
  events: [],
  plugins: { legend: { display: false }, tooltip: { enabled: false } }
};

/* ---- panel (a) ---- */
new Chart(document.getElementById('chartA'), {
  type: 'scatter',
  data: {
    datasets: [
      { label: 'Calculated', data: xy(calculatedA), showLine: true, borderColor: '#ff0000', borderWidth: 2, pointRadius: 0, cubicInterpolationMode: 'monotone' },
      { label: 'Background', data: xy(backgroundA), showLine: true, borderColor: '#00ff00', borderWidth: 2, pointRadius: 0, cubicInterpolationMode: 'monotone' },
      { label: 'Measured', data: xy(measuredA), showLine: false, pointStyle: 'circle', pointRadius: 3.2, borderWidth: 1, borderColor: '#000', backgroundColor: 'rgba(0,0,0,0)' },
      { label: 'Residual', data: xy(residualA), showLine: true, borderColor: '#0000ff', borderWidth: 1, pointRadius: 0 },
      { label: 'Reflections', data: atY(reflectionsA, 11.5), showLine: false, pointStyle: 'line', rotation: 90, pointRadius: 3.6, borderWidth: 2, borderColor: '#000' }
    ]
  },
  options: Object.assign({}, commonOpts, {
    layout: { autoPadding: false, padding: { left: 52, right: 2, top: 13, bottom: 335 } },
    scales: {
      x: { type: 'linear', min: xRange[0], max: xRange[1], display: false },
      y: { type: 'linear', min: 0, max: 272, display: false }
    }
  }),
  plugins: [{
    id: 'panelA',
    afterDraw(chart) {
      const ctx = chart.ctx;
      drawFrame(chart, { xMajor: xTickLabels, xMinor: xMinor, yTicks: yTicksA, major: 6, minor: 3.5, border: 1.5 });
      drawHkl(chart, hklA, hklAx, hklAy, null, 15.5);
      text(ctx, '(a)', 56, 40, 'bold 25px ' + SERIF);
      text(ctx, '3.6 GPa', 58, 75, '20px ' + SERIF);
      text(ctx, 'Phase I', 62, 98, '20px ' + SERIF);
      // legend
      ctx.save();
      ctx.strokeStyle = '#000'; ctx.lineWidth = 1;
      ctx.beginPath(); ctx.arc(508.5, 36, 2.6, 0, Math.PI * 2); ctx.stroke();
      [['#ff0000', 63, 1.5], ['#00ff00', 90, 2], ['#0000ff', 116, 1]].forEach(l => {
        ctx.strokeStyle = l[0]; ctx.lineWidth = l[2];
        ctx.beginPath(); ctx.moveTo(484, l[1]); ctx.lineTo(533, l[1]); ctx.stroke();
      });
      ctx.restore();
      ctx.save();
      ctx.textBaseline = 'middle';
      ctx.font = '21px ' + SERIF; ctx.fillStyle = '#000';
      ctx.fillText('Measured', 543, 37);
      ctx.fillText('Calculated', 543, 64);
      ctx.fillText('Background', 543, 91);
      ctx.fillText('Residual', 543, 117);
      ctx.restore();
      // shared y title
      ctx.save();
      ctx.translate(23, 302);
      ctx.rotate(-Math.PI / 2);
      ctx.font = '34px ' + SERIF; ctx.fillStyle = '#000';
      ctx.textAlign = 'center'; ctx.textBaseline = 'middle';
      ctx.fillText('Intensity (arb. units)', 0, 0);
      ctx.restore();
    }
  }]
});

/* ---- panel (b) ---- */
new Chart(document.getElementById('chartB'), {
  type: 'scatter',
  data: {
    datasets: [
      { label: 'Calculated', data: xy(calculatedB), showLine: true, borderColor: '#ff0000', borderWidth: 2, pointRadius: 0, cubicInterpolationMode: 'monotone' },
      { label: 'Background', data: xy(backgroundB), showLine: true, borderColor: '#00ff00', borderWidth: 2, pointRadius: 0, cubicInterpolationMode: 'monotone' },
      { label: 'Measured', data: xy(measuredB), showLine: false, pointStyle: 'circle', pointRadius: 3.2, borderWidth: 1, borderColor: '#000', backgroundColor: 'rgba(0,0,0,0)' },
      { label: 'Residual', data: xy(residualB), showLine: true, borderColor: '#0000ff', borderWidth: 1, pointRadius: 0 },
      { label: 'Reflections', data: atY(reflectionsB, 13.5), showLine: false, pointStyle: 'line', rotation: 90, pointRadius: 5.5, borderWidth: 1.6, borderColor: '#000' }
    ]
  },
  options: Object.assign({}, commonOpts, {
    layout: { autoPadding: false, padding: { left: 52, right: 2, top: 285, bottom: 0 } },
    scales: {
      x: {
        type: 'linear', min: xRange[0], max: xRange[1],
        afterBuildTicks: axis => { axis.ticks = xTickLabels.map(v => ({ value: v })); },
        afterFit: axis => { axis.height = 64; },
        grid: { display: false, drawTicks: false },
        border: { display: false },
        ticks: { color: '#000', font: { family: SERIF, size: 21 }, padding: 7, maxRotation: 0, autoSkip: false },
        title: { display: true, text: '2θ (deg)', color: '#000', font: { family: SERIF, size: 25 }, padding: { top: 0, bottom: 1 } }
      },
      y: { type: 'linear', min: 0, max: 271, display: false }
    }
  }),
  plugins: [{
    id: 'panelB',
    afterDraw(chart) {
      const ctx = chart.ctx;
      const xs = chart.scales.x, ys = chart.scales.y;
      drawFrame(chart, { xMajor: xTickLabels, xMinor: xMinor, yTicks: yTicksB, major: 6, minor: 3.5, border: 1.5 });
      drawHkl(chart, hklB, hklBx, hklBy, hklBbold, 15.5);
      text(ctx, 'Ne', xs.getPixelForValue(12.57), ys.getPixelForValue(58), '21px ' + SERIF, 'center');
      text(ctx, '(b)', 56, 312, '25px ' + SERIF);
      text(ctx, '19.1 GPa', 60, 343, '20px ' + SERIF);
      text(ctx, 'Phase II', 65, 368, '20px ' + SERIF);
      // arrow from the 002/220 peak to the inset
      const x1 = xs.getPixelForValue(9.77), y1 = ys.getPixelForValue(96);
      const x2 = xs.getPixelForValue(11.30), y2 = ys.getPixelForValue(172);
      const ang = Math.atan2(y2 - y1, x2 - x1);
      ctx.save();
      ctx.strokeStyle = '#000'; ctx.fillStyle = '#000'; ctx.lineWidth = 1;
      ctx.beginPath(); ctx.moveTo(x1, y1); ctx.lineTo(x2 - 6 * Math.cos(ang), y2 - 6 * Math.sin(ang)); ctx.stroke();
      ctx.beginPath();
      ctx.moveTo(x2, y2);
      ctx.lineTo(x2 - 9 * Math.cos(ang) + 3.5 * Math.sin(ang), y2 - 9 * Math.sin(ang) - 3.5 * Math.cos(ang));
      ctx.lineTo(x2 - 9 * Math.cos(ang) - 3.5 * Math.sin(ang), y2 - 9 * Math.sin(ang) + 3.5 * Math.cos(ang));
      ctx.closePath(); ctx.fill();
      ctx.restore();
    }
  }]
});

/* ---- inset ---- */
new Chart(document.getElementById('chartC'), {
  type: 'scatter',
  data: {
    datasets: [
      { label: 'Measured', data: xy(insetMeasured), showLine: false, pointStyle: 'circle', pointRadius: 2.5, borderWidth: 1, borderColor: '#000', backgroundColor: '#fff' },
      { label: 'Reflections', data: atY(insetReflections, 12), showLine: false, pointStyle: 'line', rotation: 90, pointRadius: 6, borderWidth: 1.5, borderColor: '#000' }
    ]
  },
  options: Object.assign({}, commonOpts, {
    layout: { autoPadding: false, padding: { left: 264, right: 220, top: 288, bottom: 220 } },
    scales: {
      x: {
        type: 'linear', min: 9.2, max: 9.8,
        afterBuildTicks: axis => { axis.ticks = insetTickLabels.map(v => ({ value: v })); },
        afterFit: axis => { axis.height = 31; },
        grid: { display: false, drawTicks: false },
        border: { display: false },
        ticks: { color: '#000', font: { family: SERIF, size: 11 }, padding: 4, maxRotation: 0, autoSkip: false, callback: v => v.toFixed(1) },
        title: { display: true, text: '2θ (deg)', color: '#000', font: { family: SERIF, size: 16 }, padding: { top: 0, bottom: 1 } }
      },
      y: { type: 'linear', min: 0, max: 81, display: false }
    }
  }),
  plugins: [{
    id: 'inset',
    beforeDraw(chart) {
      const { ctx, chartArea: a } = chart;
      ctx.save(); ctx.fillStyle = '#fff';
      ctx.fillRect(a.left, a.top, a.right - a.left, a.bottom - a.top);
      ctx.restore();
    },
    afterDraw(chart) {
      drawFrame(chart, { xMajor: insetTickLabels, xMinor: insetMinor, yTicks: yTicksInset, major: 4, minor: 3, border: 1.2 });
      drawHkl(chart, insetHkl, insetHklX, insetHklY, [1, 1], 14);
    }
  }]
});
</script>
</body>
</html>
